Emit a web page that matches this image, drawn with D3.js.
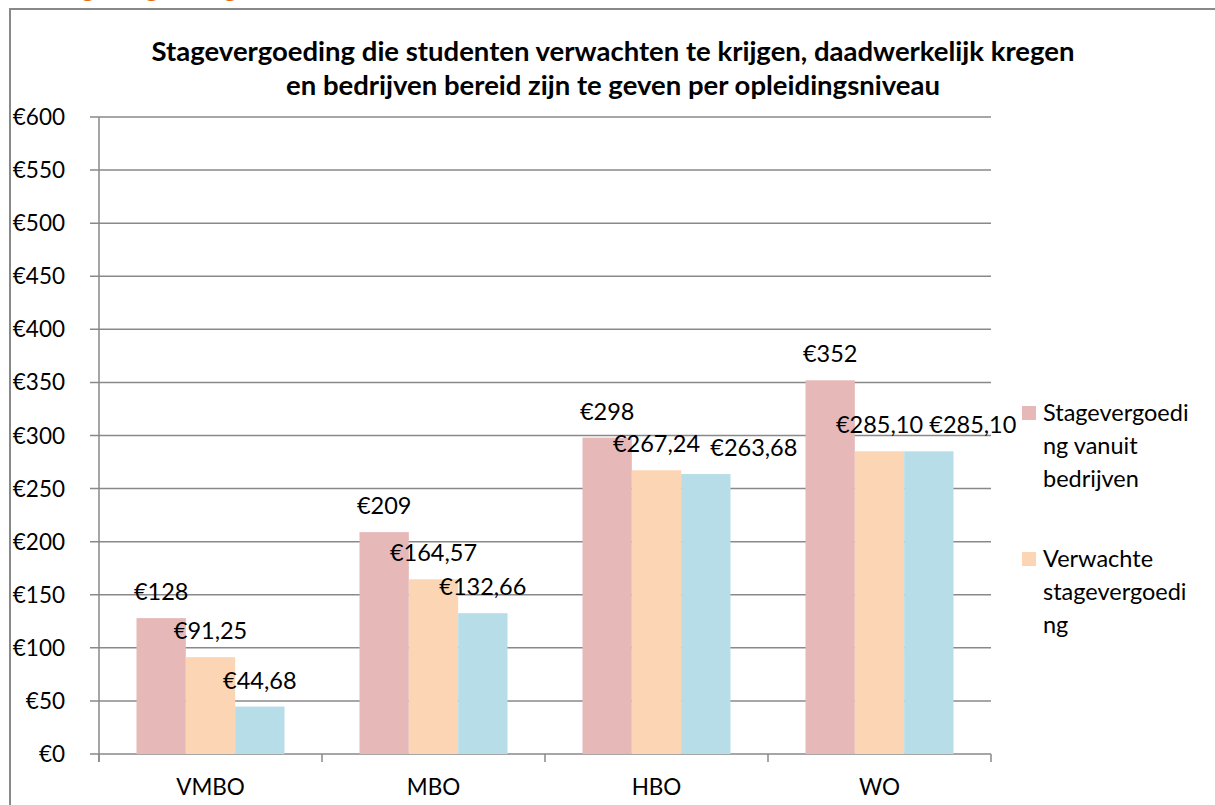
<!DOCTYPE html>
<html>
<head>
<meta charset="utf-8">
<script src="https://cdn.jsdelivr.net/npm/d3@7"></script>
<style>
  body { margin: 0; background: #fff; }
  svg { display: block; font-family: Lato, "Open Sans", sans-serif; }
</style>
</head>
<body>
<svg width="1215" height="805"></svg>
<script>
// Opleidingsniveaus (categorieën)
var niveaus = ["VMBO", "MBO", "HBO", "WO"];

// Reeksen
var reeksNamen = ["Stagevergoeding vanuit bedrijven",
                  "Verwachte stagevergoeding",
                  "Daadwerkelijke stagevergoeding"];
var vanuitBedrijven = [128, 209, 298, 352];
var verwacht = [91.25, 164.57, 267.24, 285.10];
var gekregen = [44.68, 132.66, 263.68, 285.10];

// Labels zoals in de grafiek
var labelsBedrijven = ["€128", "€209", "€298", "€352"];
var labelsVerwacht = ["€91,25", "€164,57", "€267,24", "€285,10"];
var labelsGekregen = ["€44,68", "€132,66", "€263,68", "€285,10"];

var yTicks = [0, 50, 100, 150, 200, 250, 300, 350, 400, 450, 500, 550, 600];

var kleuren = ["#e6b9b8", "#fcd5b5", "#b7dee8"];
var grijs = "#898989";

// handmatig verschoven labels (laatste reeks, HBO en WO)
var labelVerschuiving = [[0, 0, 0, 0], [0, 0, 0, 0], [0, 0, 48, 44]];

var reeksen = [vanuitBedrijven, verwacht, gekregen];
var reeksLabels = [labelsBedrijven, labelsVerwacht, labelsGekregen];

var svg = d3.select("svg");

// rand van de grafiek
svg.append("rect")
    .attr("x", 10).attr("y", 9)
    .attr("width", 1230).attr("height", 820)
    .attr("fill", "none")
    .attr("stroke", grijs)
    .attr("stroke-width", 2);

// afgesneden kop bovenaan (valt grotendeels boven de pagina)
svg.append("text")
    .attr("x", 45).attr("y", -3)
    .attr("fill", "#e36c0a")
    .attr("font-weight", "bold")
    .attr("font-size", 26)
    .text("Stagevergoeding");

// titel
var titel = ["Stagevergoeding die studenten verwachten te krijgen, daadwerkelijk kregen",
             "en bedrijven bereid zijn te geven per opleidingsniveau"];
svg.append("g")
  .selectAll("text")
  .data(titel)
  .enter().append("text")
    .attr("x", 613)
    .attr("y", function(d, i) { return 61 + i * 34; })
    .attr("text-anchor", "middle")
    .attr("font-weight", "bold")
    .attr("font-size", 27.5)
    .attr("fill", "#000")
    .text(function(d) { return d; });

var x = d3.scaleBand().domain(niveaus).range([99, 991]);
var xReeks = d3.scaleBand().domain(d3.range(3)).range([37.5, 185.5]);
var y = d3.scaleLinear().domain([0, 600]).range([754, 117]);

// rasterlijnen
svg.append("g")
  .selectAll("line")
  .data(yTicks)
  .enter().append("line")
    .attr("x1", 90).attr("x2", 991)
    .attr("y1", function(d) { return y(d); })
    .attr("y2", function(d) { return y(d); })
    .attr("stroke", grijs)
    .attr("stroke-width", 1.5);

// y-as
svg.append("line")
    .attr("x1", 99).attr("x2", 99)
    .attr("y1", y(600)).attr("y2", 762)
    .attr("stroke", grijs).attr("stroke-width", 1.5);

// categorie-streepjes
svg.append("g")
  .selectAll("line")
  .data(niveaus.map(function(n) { return x(n); }).concat([991]))
  .enter().append("line")
    .attr("x1", function(d) { return d; })
    .attr("x2", function(d) { return d; })
    .attr("y1", 754).attr("y2", 762)
    .attr("stroke", grijs).attr("stroke-width", 1.5);

// y-labels
svg.append("g")
  .selectAll("text")
  .data(yTicks)
  .enter().append("text")
    .attr("x", 65)
    .attr("y", function(d) { return y(d) + 8; })
    .attr("text-anchor", "end")
    .attr("font-size", 22.5)
    .text(function(d) { return "€" + d; });

// x-labels
svg.append("g")
  .selectAll("text")
  .data(niveaus)
  .enter().append("text")
    .attr("x", function(d) { return x(d) + x.bandwidth() / 2; })
    .attr("y", 795)
    .attr("text-anchor", "middle")
    .attr("font-size", 22.5)
    .text(function(d) { return d; });

// staven + labels
reeksen.forEach(function(waarden, r) {
  var g = svg.append("g");
  g.selectAll("rect")
    .data(waarden)
    .enter().append("rect")
      .attr("x", function(d, i) { return x(niveaus[i]) + xReeks(r); })
      .attr("width", xReeks.bandwidth())
      .attr("y", function(d) { return y(d); })
      .attr("height", function(d) { return y(0) - y(d); })
      .attr("fill", kleuren[r]);
  g.selectAll("text")
    .data(waarden)
    .enter().append("text")
      .attr("x", function(d, i) {
        return x(niveaus[i]) + xReeks(r) + xReeks.bandwidth() / 2 + labelVerschuiving[r][i]; })
      .attr("y", function(d) { return y(d) - 18; })
      .attr("text-anchor", "middle")
      .attr("font-size", 23.5)
      .text(function(d, i) { return reeksLabels[r][i]; });
});

// legenda (derde item valt buiten het kader)
var legenda = [
  {kleur: kleuren[0], regels: ["Stagevergoedi", "ng vanuit", "bedrijven"], y: 413},
  {kleur: kleuren[1], regels: ["Verwachte", "stagevergoedi", "ng"], y: 559}
];
var lg = svg.append("g")
  .selectAll("g")
  .data(legenda)
  .enter().append("g");
lg.append("rect")
    .attr("x", 1022)
    .attr("y", function(d) { return d.y - 7; })
    .attr("width", 14).attr("height", 14)
    .attr("fill", function(d) { return d.kleur; });
lg.each(function(d) {
  d3.select(this).selectAll("text")
    .data(d.regels)
    .enter().append("text")
      .attr("x", 1043)
      .attr("y", function(t, i) { return d.y + 8 + i * 33; })
      .attr("font-size", 23.5)
      .text(function(t) { return t; });
});
</script>
</body>
</html>
